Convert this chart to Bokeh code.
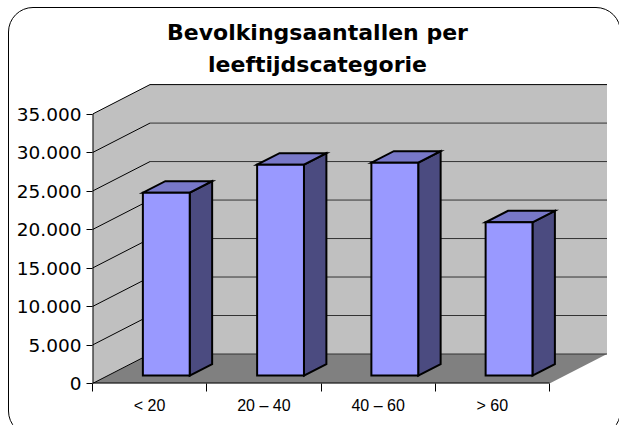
from bokeh.plotting import figure
from bokeh.models import Range1d, FixedTicker, InlineStyleSheet
from bokeh.core.properties import value
from bokeh.embed import file_html
from bokeh.resources import INLINE

# ---- data ----
title_lines = ["Bevolkingsaantallen per", "leeftijdscategorie"]
categories = ["< 20", "20 – 40", "40 – 60", "> 60"]
values = [23750, 27400, 27650, 19900]
y_ticks = [0, 5000, 10000, 15000, 20000, 25000, 30000, 35000]
y_max = 35000

# ---- geometry (pixel layout -> data units) ----
PX_PER_CAT = 114.25
PX_PER_VAL = 7.697 / 1000.0
DX = 57.5 / PX_PER_CAT          # depth offset in category units
DV = 29.5 / PX_PER_VAL          # depth offset in value units
D0, D1 = 0.27, 0.66             # bar depth (front/back fraction)
HALF_W = 0.205
CENTER_SHIFT = 0.51

W, H = 619, 425
FRAME_LEFT, FRAME_BOTTOM = 92, 383
MB_LEFT, MB_BOTTOM = FRAME_LEFT, H - FRAME_BOTTOM
frame_w = W - MB_LEFT
frame_h = H - MB_BOTTOM
n = len(categories)


def cx(px):
    return (px - FRAME_LEFT) / PX_PER_CAT


def vy(py):
    return (FRAME_BOTTOM - py) / PX_PER_VAL


p = figure(width=W, height=H, output_backend="svg", toolbar_location=None,
           x_range=Range1d(0, frame_w / PX_PER_CAT),
           y_range=Range1d(0, frame_h / PX_PER_VAL),
           min_border_left=MB_LEFT, min_border_bottom=MB_BOTTOM,
           min_border_top=0, min_border_right=0)
p.outline_line_color = None
p.grid.visible = False
p.background_fill_color = "white"
p.border_fill_color = "white"

# rounded chart-area border (decoration only)
p.stylesheets.append(InlineStyleSheet(css="""
:host { position: relative; overflow: hidden; }
:host::after { content: ""; position: absolute; left: 8px; top: 7px; width: 613px; height: 429px;
  box-sizing: border-box; border: 1px solid black; border-radius: 25px; pointer-events: none; }
"""))

wall = "#C0C0C0"
floor = "#808080"

# walls and floor
p.patch([0, 0, DX, DX], [0, y_max, y_max + DV, DV], fill_color=wall, line_color=None)
p.patch([DX, DX, n + DX, n + DX], [DV, y_max + DV, y_max + DV, DV], fill_color=wall, line_color=None)
p.patch([0, n, n + DX, DX], [0, 0, DV, DV], fill_color=floor, line_color=None)

# gridlines
for t in y_ticks:
    p.line([0, DX], [t, t + DV], line_color="black", line_width=1)
    p.line([DX, n + DX], [t + DV, t + DV], line_color="#333333" if t < y_max else "black", line_width=1)

# axes lines drawn only over the data extent
p.line([0, 0], [0, y_max], line_color="black", line_width=2)
p.line([0, n], [0, 0], line_color="black", line_width=2)

# bars
front_xs, front_ys, top_xs, top_ys, side_xs, side_ys = [], [], [], [], [], []
for i, v in enumerate(values):
    c0 = i + CENTER_SHIFT - HALF_W
    c1 = i + CENTER_SHIFT + HALF_W
    fx0, fx1, fy0 = c0 + D0 * DX, c1 + D0 * DX, D0 * DV
    bx0, bx1, by0 = c0 + D1 * DX, c1 + D1 * DX, D1 * DV
    front_xs.append([fx0, fx1, fx1, fx0]); front_ys.append([fy0, fy0, v + fy0, v + fy0])
    top_xs.append([fx0, fx1, bx1, bx0]); top_ys.append([v + fy0, v + fy0, v + by0, v + by0])
    side_xs.append([fx1, bx1, bx1, fx1]); side_ys.append([fy0, by0, v + by0, v + fy0])

p.patches(side_xs, side_ys, fill_color="#4B4B80", line_color="black", line_width=2, line_join="miter")
p.patches(top_xs, top_ys, fill_color="#7878C8", line_color="black", line_width=2, line_join="miter")
p.patches(front_xs, front_ys, fill_color="#9999FF", line_color="black", line_width=2, line_join="miter")

# title as text in plot area
title_x = cx(317)
title_y = [vy(31.5), vy(64)]
p.text(x=[title_x, title_x], y=title_y, text=title_lines,
       text_font=value("DejaVu Sans"), text_font_style="bold", text_font_size="22px",
       text_align="center", text_baseline="alphabetic", text_color="black")

# y axis
ya = p.yaxis[0]
ya.ticker = FixedTicker(ticks=y_ticks, minor_ticks=[])
ya.major_label_overrides = {t: f"{t:,}".replace(",", ".") for t in y_ticks}
ya.axis_line_color = None
ya.major_tick_out = 6
ya.major_tick_in = 0
ya.major_tick_line_color = "black"
ya.minor_tick_line_color = None
ya.major_label_standoff = 5
ya.major_label_text_font = "DejaVu Sans"
ya.major_label_text_font_size = "18.5px"
ya.major_label_text_color = "black"

# x axis
xa = p.xaxis[0]
centers = [i + 0.5 for i in range(n)]
xa.ticker = FixedTicker(ticks=centers, minor_ticks=list(range(n + 1)))
xa.major_label_overrides = {c: lab for c, lab in zip(centers, categories)}
xa.axis_line_color = None
xa.major_tick_line_color = None
xa.major_tick_out = 0
xa.major_tick_in = 0
xa.minor_tick_line_color = "black"
xa.minor_tick_out = 8
xa.minor_tick_in = 0
xa.major_label_standoff = 5
xa.major_label_text_font = "Liberation Sans"
xa.major_label_text_font_size = "16px"
xa.major_label_text_color = "black"

open("out.html", "w").write(file_html(p, INLINE))
